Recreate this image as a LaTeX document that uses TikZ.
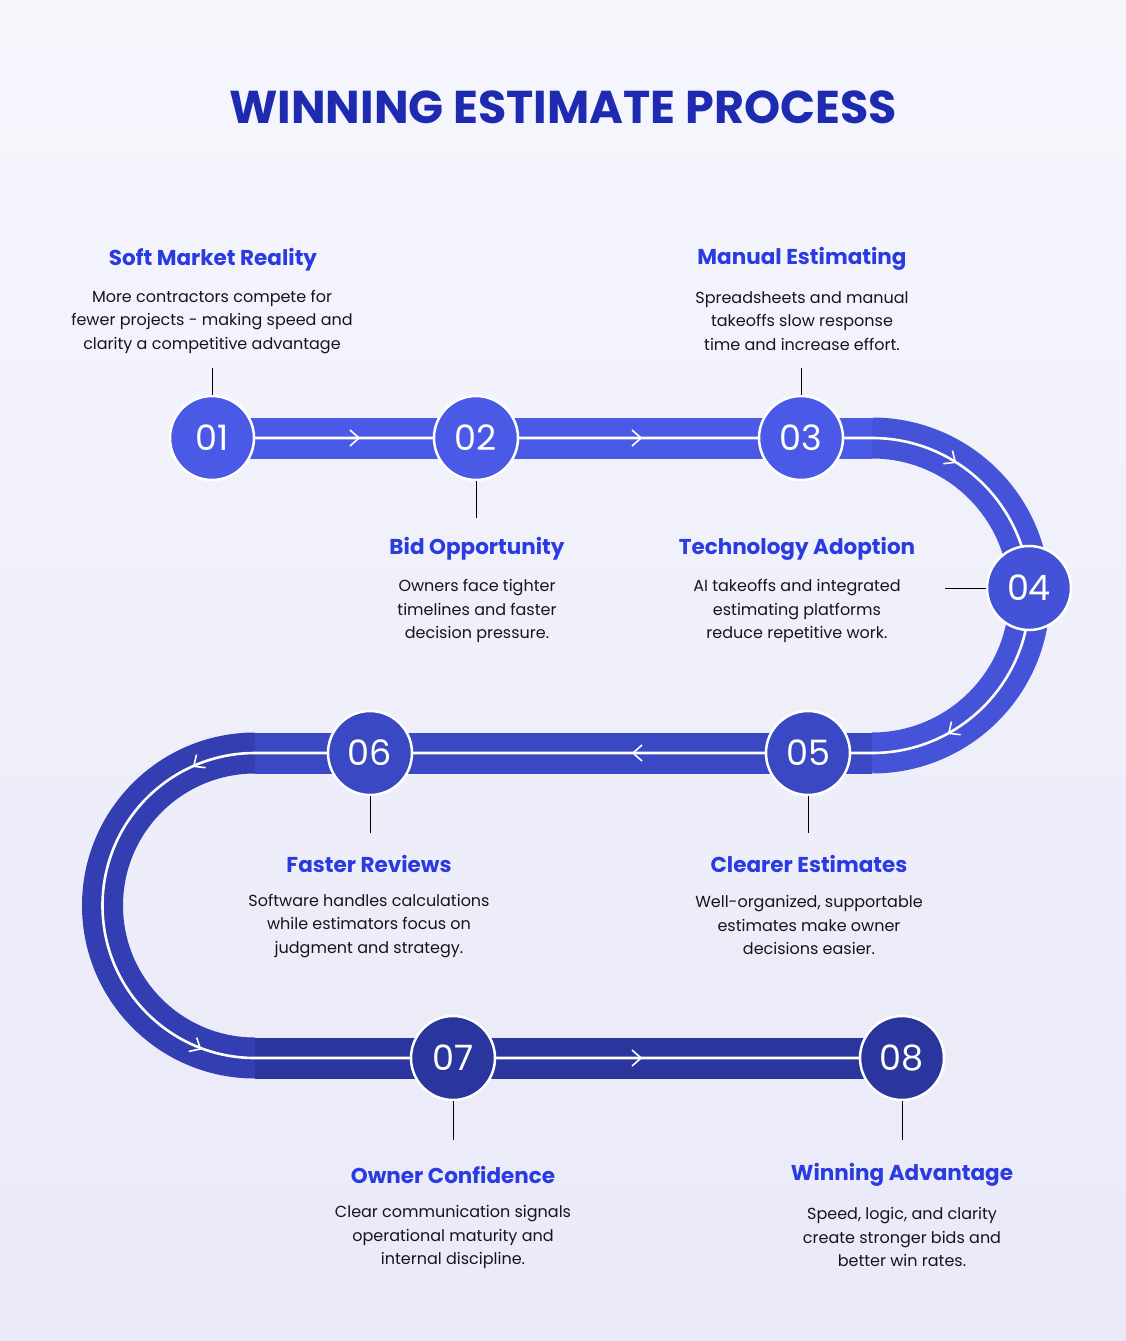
\documentclass[tikz,border=0pt]{standalone}
\usepackage{fontspec}
\setmainfont{Poppins}
\usetikzlibrary{arrows.meta}
\definecolor{bgA}{HTML}{F6F6FD}
\definecolor{bgB}{HTML}{E9E9F8}
\definecolor{bandA}{HTML}{4A5AE6}
\definecolor{bandB}{HTML}{3A48C4}
\definecolor{bandC}{HTML}{2A359E}
\definecolor{headc}{HTML}{2A3BE0}
\definecolor{titlec}{HTML}{1E2BB0}
\definecolor{bodyc}{HTML}{15151F}
\begin{document}
\begin{tikzpicture}[x=1pt,y=-1pt,
  band/.style={line width=41pt},
  wline/.style={white,line width=2.6pt},
  num/.style={circle,minimum size=84pt,draw=white,line width=2.5pt,text=white,font=\fontsize{35}{35}\selectfont},
  head/.style={text=headc,font=\bfseries\fontsize{21.5}{24}\selectfont},
  body/.style={text=bodyc,align=center,font=\fontsize{16}{23.5}\selectfont},
  conn/.style={black,line width=0.8pt},
  chev/.style={white,line width=1.6pt}]
\useasboundingbox (0,0) rectangle (1126,1341);
\shade[top color=bgA,bottom color=bgB] (0,0) rectangle (1126,1341);
\node[text=titlec,font=\bfseries\fontsize{46}{46}\selectfont] (title) at (563,107) {WINNING ESTIMATE PROCESS};
% band
\draw[band,bandA] (212,438) -- (872,438);
\draw[band,bandA!60!bandB] (872,438) arc[start angle=-90,end angle=90,radius=157.5];
\draw[band,bandB] (872,753) -- (255,753);
\draw[band,bandB!50!bandC] (255,753) arc[start angle=270,end angle=90,radius=152.5];
\draw[band,bandC] (255,1058) -- (900,1058);
\draw[wline] (212,438) -- (872,438) arc[start angle=-90,end angle=90,radius=157.5] -- (255,753) arc[start angle=270,end angle=90,radius=152.5] -- (900,1058);
% chevrons
\foreach \x/\y/\a in {355/438/0,637/438/0,952/460/-35,952/731/-145,637/753/180,197/764/-145,197/1047/-30,637/1058/0}{
  \draw[chev,rotate around={\a:(\x,\y)}] (\x-5,\y-8) -- (\x+4,\y) -- (\x-5,\y+8);}
% circles
\node[num,fill=bandA] (n1) at (212,438) {01};
\node[num,fill=bandA] (n2) at (476,438) {02};
\node[num,fill=bandA] (n3) at (801,438) {03};
\node[num,fill=bandA!55!bandB] (n4) at (1029,588) {04};
\node[num,fill=bandB] (n5) at (808,753) {05};
\node[num,fill=bandB] (n6) at (370,753) {06};
\node[num,fill=bandC] (n7) at (453,1058) {07};
\node[num,fill=bandC] (n8) at (902,1058) {08};
% texts
\node[head] (h1) at (213,260) {Soft Market Reality};
\node[body] (b1) at (212,322) {More contractors compete for\\fewer projects - making speed and\\clarity a competitive advantage};
\node[head] (h3) at (802,259) {Manual Estimating};
\node[body] (b3) at (802,321) {Spreadsheets and manual\\takeoffs slow response\\time and increase effort.};
\node[head] (h2) at (477,549) {Bid Opportunity};
\node[body] (b2) at (477,611) {Owners face tighter\\timelines and faster\\decision pressure.};
\node[head] (h4) at (797,549) {Technology Adoption};
\node[body] (b4) at (797,611) {AI takeoffs and integrated\\estimating platforms\\reduce repetitive work.};
\node[head] (h6) at (369,864) {Faster Reviews};
\node[body] (b6) at (369,926) {Software handles calculations\\while estimators focus on\\judgment and strategy.};
\node[head] (h5) at (809,864) {Clearer Estimates};
\node[body] (b5) at (809,925) {Well-organized, supportable\\estimates make owner\\decisions easier.};
\node[head] (h7) at (453,1175) {Owner Confidence};
\node[body] (b7) at (453,1237) {Clear communication signals\\operational maturity and\\internal discipline.};
\node[head] (h8) at (902,1175) {Winning Advantage};
\node[body] (b8) at (902,1237) {Speed, logic, and clarity\\create stronger bids and\\better win rates.};
% connectors
\coordinate (c1) at (212,368); \draw[conn] (c1) -- (n1.north);
\coordinate (c3) at (801,368); \draw[conn] (c3) -- (n3.north);
\coordinate (c2) at (476,518); \draw[conn] (n2.south) -- (c2);
\coordinate (c4) at (945,588); \draw[conn] (n4.west) -- (c4);
\coordinate (c5) at (808,833); \draw[conn] (n5.south) -- (c5);
\coordinate (c6) at (370,833); \draw[conn] (n6.south) -- (c6);
\coordinate (c7) at (453,1140); \draw[conn] (n7.south) -- (c7);
\coordinate (c8) at (902,1140); \draw[conn] (n8.south) -- (c8);
\end{tikzpicture}
\end{document}
